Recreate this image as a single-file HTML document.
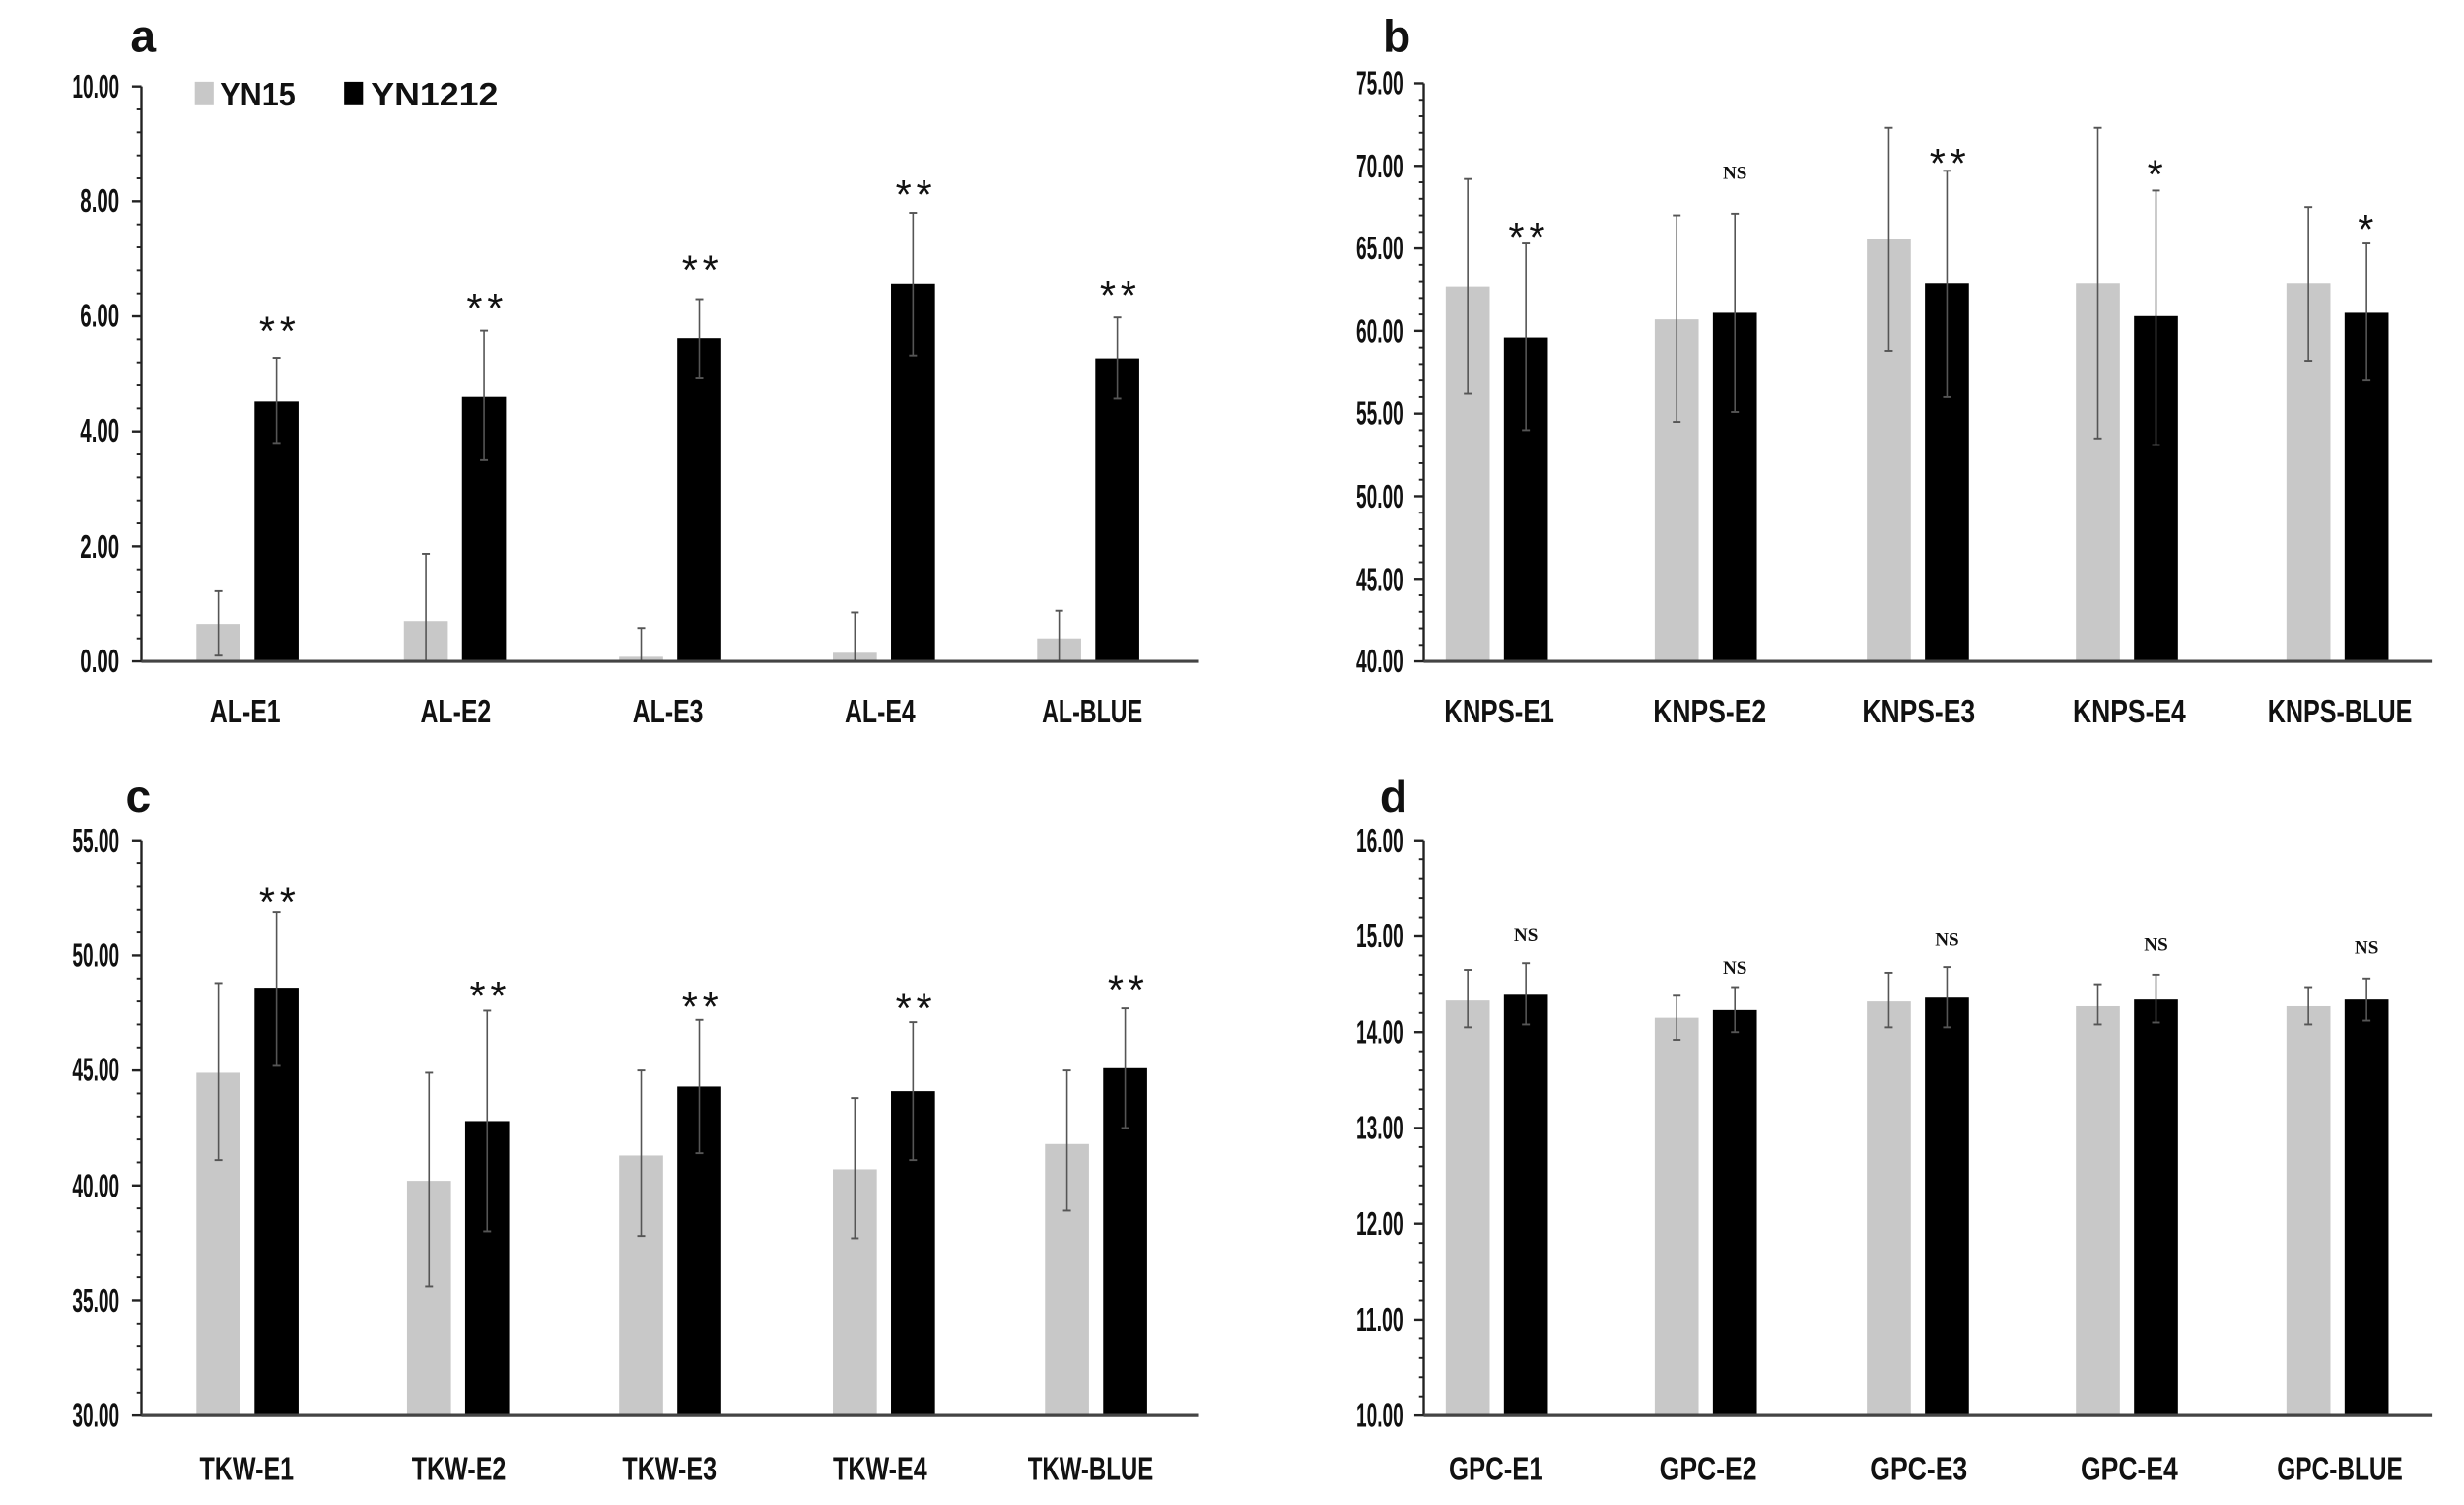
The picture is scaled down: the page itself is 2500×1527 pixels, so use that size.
<!DOCTYPE html>
<html><head><meta charset="utf-8"><style>
html,body{margin:0;padding:0;background:#fff;}
svg{display:block;}
text{font-family:"Liberation Sans Narrow","Liberation Sans",sans-serif;font-weight:bold;fill:#111;}
.t{font-size:21px;}
.l{font-size:21px;}
.p{font-size:29px;font-family:"Liberation Sans",sans-serif;}
.s{font-size:26px;font-family:"Liberation Sans",sans-serif;font-weight:normal;letter-spacing:3px;}
.ns{font-size:12px;font-family:"Liberation Serif",serif;}
</style></head><body>
<svg id="c" width="2500" height="1527" viewBox="0 0 1568 958" preserveAspectRatio="none" xmlns="http://www.w3.org/2000/svg">
<g id="g"></g>
<text class="p" x="83" y="33">a</text>
<text class="p" x="880" y="33">b</text>
<text class="p" x="80" y="517">c</text>
<text class="p" x="878" y="517">d</text>
<rect x="124" y="52" width="12" height="15" fill="#c8c8c8"/>
<text class="t" x="140" y="67" textLength="48" lengthAdjust="spacingAndGlyphs">YN15</text>
<rect x="219" y="52" width="12" height="15" fill="#000"/>
<text class="t" x="236" y="67" textLength="81" lengthAdjust="spacingAndGlyphs">YN1212</text>
<g text-anchor="end">
<text class="t" x="76" y="62" textLength="30" lengthAdjust="spacingAndGlyphs">10.00</text>
<text class="t" x="76" y="135" textLength="25" lengthAdjust="spacingAndGlyphs">8.00</text>
<text class="t" x="76" y="208" textLength="25" lengthAdjust="spacingAndGlyphs">6.00</text>
<text class="t" x="76" y="281" textLength="25" lengthAdjust="spacingAndGlyphs">4.00</text>
<text class="t" x="76" y="355" textLength="25" lengthAdjust="spacingAndGlyphs">2.00</text>
<text class="t" x="76" y="428" textLength="25" lengthAdjust="spacingAndGlyphs">0.00</text>
<text class="t" x="893" y="60" textLength="30" lengthAdjust="spacingAndGlyphs">75.00</text>
<text class="t" x="893" y="113" textLength="30" lengthAdjust="spacingAndGlyphs">70.00</text>
<text class="t" x="893" y="165" textLength="30" lengthAdjust="spacingAndGlyphs">65.00</text>
<text class="t" x="893" y="218" textLength="30" lengthAdjust="spacingAndGlyphs">60.00</text>
<text class="t" x="893" y="270" textLength="30" lengthAdjust="spacingAndGlyphs">55.00</text>
<text class="t" x="893" y="323" textLength="30" lengthAdjust="spacingAndGlyphs">50.00</text>
<text class="t" x="893" y="376" textLength="30" lengthAdjust="spacingAndGlyphs">45.00</text>
<text class="t" x="893" y="428" textLength="30" lengthAdjust="spacingAndGlyphs">40.00</text>
<text class="t" x="76" y="542" textLength="30" lengthAdjust="spacingAndGlyphs">55.00</text>
<text class="t" x="76" y="615" textLength="30" lengthAdjust="spacingAndGlyphs">50.00</text>
<text class="t" x="76" y="688" textLength="30" lengthAdjust="spacingAndGlyphs">45.00</text>
<text class="t" x="76" y="762" textLength="30" lengthAdjust="spacingAndGlyphs">40.00</text>
<text class="t" x="76" y="835" textLength="30" lengthAdjust="spacingAndGlyphs">35.00</text>
<text class="t" x="76" y="908" textLength="30" lengthAdjust="spacingAndGlyphs">30.00</text>
<text class="t" x="893" y="542" textLength="30" lengthAdjust="spacingAndGlyphs">16.00</text>
<text class="t" x="893" y="603" textLength="30" lengthAdjust="spacingAndGlyphs">15.00</text>
<text class="t" x="893" y="664" textLength="30" lengthAdjust="spacingAndGlyphs">14.00</text>
<text class="t" x="893" y="725" textLength="30" lengthAdjust="spacingAndGlyphs">13.00</text>
<text class="t" x="893" y="786" textLength="30" lengthAdjust="spacingAndGlyphs">12.00</text>
<text class="t" x="893" y="847" textLength="30" lengthAdjust="spacingAndGlyphs">11.00</text>
<text class="t" x="893" y="908" textLength="30" lengthAdjust="spacingAndGlyphs">10.00</text>
</g>
<g text-anchor="middle">
<text class="l" x="156" y="460" textLength="45" lengthAdjust="spacingAndGlyphs">AL-E1</text>
<text class="l" x="290" y="460" textLength="45" lengthAdjust="spacingAndGlyphs">AL-E2</text>
<text class="l" x="425" y="460" textLength="45" lengthAdjust="spacingAndGlyphs">AL-E3</text>
<text class="l" x="560" y="460" textLength="45" lengthAdjust="spacingAndGlyphs">AL-E4</text>
<text class="l" x="695" y="460" textLength="64" lengthAdjust="spacingAndGlyphs">AL-BLUE</text>
<text class="l" x="954" y="460" textLength="70" lengthAdjust="spacingAndGlyphs">KNPS-E1</text>
<text class="l" x="1088" y="460" textLength="72" lengthAdjust="spacingAndGlyphs">KNPS-E2</text>
<text class="l" x="1221" y="460" textLength="72" lengthAdjust="spacingAndGlyphs">KNPS-E3</text>
<text class="l" x="1355" y="460" textLength="72" lengthAdjust="spacingAndGlyphs">KNPS-E4</text>
<text class="l" x="1489" y="460" textLength="92" lengthAdjust="spacingAndGlyphs">KNPS-BLUE</text>
<text class="l" x="157" y="942" textLength="60" lengthAdjust="spacingAndGlyphs">TKW-E1</text>
<text class="l" x="292" y="942" textLength="60" lengthAdjust="spacingAndGlyphs">TKW-E2</text>
<text class="l" x="426" y="942" textLength="60" lengthAdjust="spacingAndGlyphs">TKW-E3</text>
<text class="l" x="560" y="942" textLength="60" lengthAdjust="spacingAndGlyphs">TKW-E4</text>
<text class="l" x="694" y="942" textLength="80" lengthAdjust="spacingAndGlyphs">TKW-BLUE</text>
<text class="l" x="952" y="942" textLength="60" lengthAdjust="spacingAndGlyphs">GPC-E1</text>
<text class="l" x="1087" y="942" textLength="62" lengthAdjust="spacingAndGlyphs">GPC-E2</text>
<text class="l" x="1221" y="942" textLength="62" lengthAdjust="spacingAndGlyphs">GPC-E3</text>
<text class="l" x="1355" y="942" textLength="62" lengthAdjust="spacingAndGlyphs">GPC-E4</text>
<text class="l" x="1489" y="942" textLength="80" lengthAdjust="spacingAndGlyphs">GPC-BLUE</text>
<text class="s" x="178" y="220">**</text>
<text class="s" x="310" y="205">**</text>
<text class="s" x="447" y="181">**</text>
<text class="s" x="583" y="133">**</text>
<text class="s" x="713" y="197">**</text>
<text class="s" x="973" y="160">**</text>
<text class="ns" x="1104" y="114">NS</text>
<text class="s" x="1241" y="113">**</text>
<text class="s" x="1373" y="120">*</text>
<text class="s" x="1507" y="155">*</text>
<text class="s" x="178" y="583">**</text>
<text class="s" x="312" y="643">**</text>
<text class="s" x="447" y="650">**</text>
<text class="s" x="583" y="651">**</text>
<text class="s" x="718" y="639">**</text>
<text class="ns" x="971" y="599">NS</text>
<text class="ns" x="1104" y="620">NS</text>
<text class="ns" x="1239" y="602">NS</text>
<text class="ns" x="1372" y="605">NS</text>
<text class="ns" x="1506" y="607">NS</text>
</g>
</svg>
<script>
(function(){
var g=document.getElementById('g'),NS='http://www.w3.org/2000/svg';
function el(n,a){var e=document.createElementNS(NS,n);for(var k in a)e.setAttribute(k,a[k]);g.appendChild(e);}
var P=[
 {ax:90,end:763,top:55,bot:421,min:0,max:10,major:2,minor:0.4,cx:[176,308,445,581,711],
  gr:[[0.65,0.1,1.22],[0.7,0,1.87],[0.08,0,0.58],[0.15,0,0.85],[0.4,-0.05,0.88]],
  bk:[[4.52,3.8,5.28],[4.6,3.5,5.75],[5.62,4.92,6.3],[6.57,5.32,7.8],[5.27,4.57,5.98]]},
 {ax:906,end:1548,top:53,bot:421,min:40,max:75,major:5,minor:1,cx:[971,1104,1239,1372,1506],
  gr:[[62.7,56.2,69.2],[60.7,54.5,67],[65.6,58.8,72.3],[62.9,53.5,72.3],[62.9,58.2,67.5]],
  bk:[[59.6,54,65.3],[61.1,55.1,67.1],[62.9,56,69.7],[60.9,53.1,68.5],[61.1,57,65.3]]},
 {ax:90,end:763,top:535,bot:901,min:30,max:55,major:5,minor:1,cx:[176,310,445,581,716],
  gr:[[44.9,41.1,48.8],[40.2,35.6,44.9],[41.3,37.8,45],[40.7,37.7,43.8],[41.8,38.9,45]],
  bk:[[48.6,45.2,51.9],[42.8,38,47.6],[44.3,41.4,47.2],[44.1,41.1,47.1],[45.1,42.5,47.7]]},
 {ax:906,end:1548,top:535,bot:901,min:10,max:16,major:1,minor:0.2,cx:[971,1104,1239,1372,1506],
  gr:[[14.33,14.05,14.65],[14.15,13.92,14.38],[14.32,14.05,14.62],[14.27,14.08,14.5],[14.27,14.08,14.47]],
  bk:[[14.39,14.08,14.72],[14.23,14.0,14.47],[14.36,14.05,14.68],[14.34,14.1,14.6],[14.34,14.12,14.56]]}
];
P.forEach(function(p){
 function Y(v){return p.bot-(v-p.min)/(p.max-p.min)*(p.bot-p.top);}
 function bar(cx,d,col){
  var y=Y(d[0]);el('rect',{x:cx-14,y:y,width:28,height:p.bot-y,fill:col});
  var a=Math.max(Y(d[2]),p.top),b=Math.min(Y(d[1]),p.bot);
  el('line',{x1:cx,x2:cx,y1:a,y2:b,stroke:'#555','stroke-width':1});
  el('line',{x1:cx-2.5,x2:cx+2.5,y1:a,y2:a,stroke:'#555','stroke-width':1.2});
  el('line',{x1:cx-2.5,x2:cx+2.5,y1:b,y2:b,stroke:'#555','stroke-width':1.2});
 }
 p.cx.forEach(function(c,i){bar(c-37,p.gr[i],'#c8c8c8');bar(c,p.bk[i],'#000');});
 el('line',{x1:p.ax,x2:p.ax,y1:p.top,y2:p.bot,stroke:'#222','stroke-width':1.5});
 var n=Math.round((p.max-p.min)/p.minor);
 for(var i=0;i<=n;i++){var v=p.min+i*p.minor,y=Y(v);
  var maj=Math.abs(v/p.major-Math.round(v/p.major))<1e-6;
  el('line',{x1:p.ax-(maj?6:3),x2:p.ax,y1:y,y2:y,stroke:'#222','stroke-width':maj?1.5:1.2});}
 el('line',{x1:p.ax,x2:p.end,y1:p.bot,y2:p.bot,stroke:'#444','stroke-width':2});
});
})();
</script>
</body></html>
